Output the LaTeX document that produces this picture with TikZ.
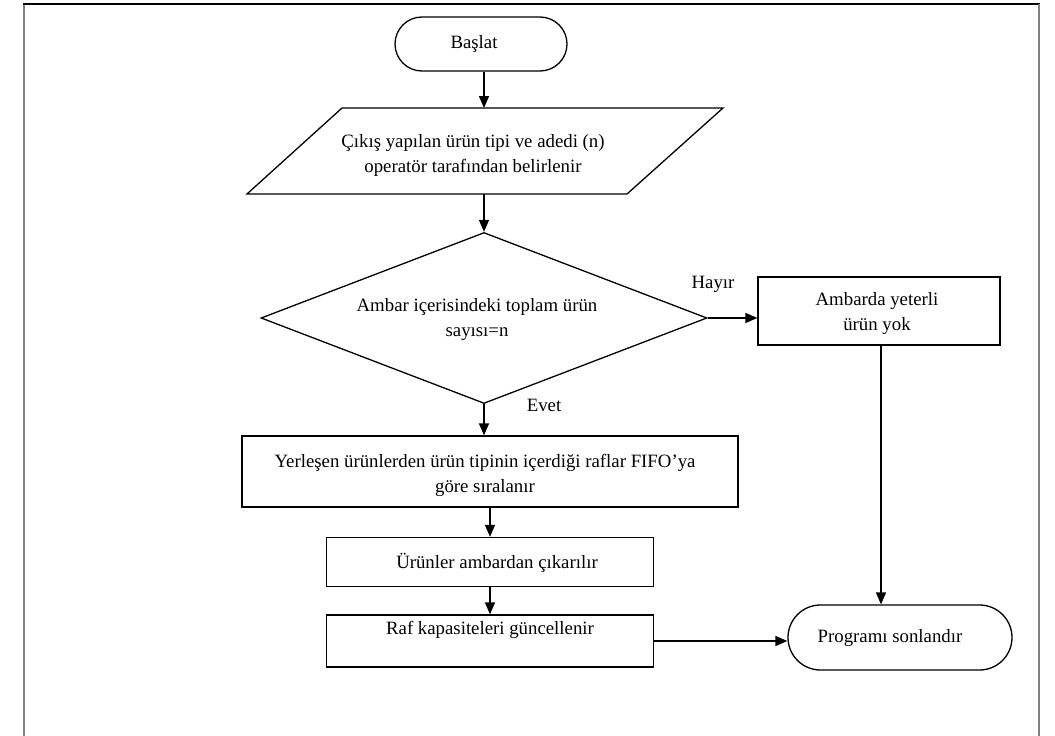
\documentclass[tikz,border=0pt]{standalone}
\usepackage{fontspec}
\setmainfont{Liberation Serif}
\usetikzlibrary{arrows.meta,shapes.geometric,shapes.misc}
\tikzset{
  arr/.style={line width=1.5pt,-{Triangle[length=12pt,width=10pt]}},
  shp/.style={draw,line width=1.3pt,inner sep=0pt},
  boxn/.style={shp,rectangle},
  term/.style={shp,rounded rectangle},
  txt/.style={align=center,font=\fontsize{18.8}{25}\selectfont,inner sep=0pt},
}
\begin{document}
\begin{tikzpicture}[x=1pt,y=-1pt]
\useasboundingbox (0,0) rectangle (1055,736);
% outer frame
\draw[line width=1.5pt,gray] (24,736) -- (24,4);
\draw[line width=1.5pt,black] (23.3,4) -- (1039.7,4);
\draw[line width=1.5pt,gray] (1039,4) -- (1039,736);

% start
\node[term,minimum width=172pt,minimum height=54pt] (start) at (481,44) {};
\node[txt] (startT) at (474,44) {Başlat};

% input parallelogram
\coordinate (pTL) at (342,108);
\coordinate (pTR) at (723,108);
\coordinate (pBR) at (627,194);
\coordinate (pBL) at (247,194);
\coordinate (paraTop) at (484,108);
\coordinate (paraBot) at (484,194);
\draw[line width=1.3pt,line join=miter] (pTL) -- (pTR) -- (pBR) -- (pBL) -- cycle;
\node[txt] (paraT) at (473,155) {Çıkış yapılan ürün tipi ve adedi (n)\\operatör tarafından belirlenir};

% decision
\node[shp,diamond,minimum width=446pt,minimum height=171pt] (dec) at (484,318) {};
\node[txt] (decT) at (477,320) {Ambar içerisindeki toplam ürün\\sayısı=n};

% no branch
\node[boxn,minimum width=242pt,minimum height=68pt] (amb) at (879,311) {};
\node[txt] (ambT) at (877,314) {Ambarda yeterli\\ürün yok};

% process boxes
\node[boxn,minimum width=496pt,minimum height=71pt] (yer) at (490,471.5) {};
\node[txt] (yerT) at (485,475) {Yerleşen ürünlerden ürün tipinin içerdiği raflar FIFO’ya\\göre sıralanır};
\node[boxn,minimum width=327pt,minimum height=49pt] (ur) at (490,562) {};
\node[txt] (urT) at (497,563) {Ürünler ambardan çıkarılır};
\node[boxn,minimum width=327pt,minimum height=52pt] (raf) at (490,641) {};
\node[txt] (rafT) at (490,630) {Raf kapasiteleri güncellenir};

% end
\node[term,minimum width=224pt,minimum height=65pt] (prog) at (900,637.5) {};
\node[txt] (progT) at (890,638) {Programı sonlandır};

% labels
\node[txt] (hayir) at (713,284) {Hayır};
\node[txt] (evet) at (544,405) {Evet};

% connectors
\draw[arr] (start.south -| paraTop) -- (paraTop);
\draw[arr] (paraBot) -- (dec.north);
\draw[arr] (dec.east) -- (dec.east -| amb.west);
\draw[arr] (amb.south -| 881,0) -- (prog.north -| 881,0);
\draw[arr] (dec.south) -- (dec.south |- yer.north);
\draw[arr] (yer.south) -- (ur.north);
\draw[arr] (ur.south) -- (raf.north);
\draw[arr] (raf.east) -- (raf.east -| prog.west);
\end{tikzpicture}
\end{document}
